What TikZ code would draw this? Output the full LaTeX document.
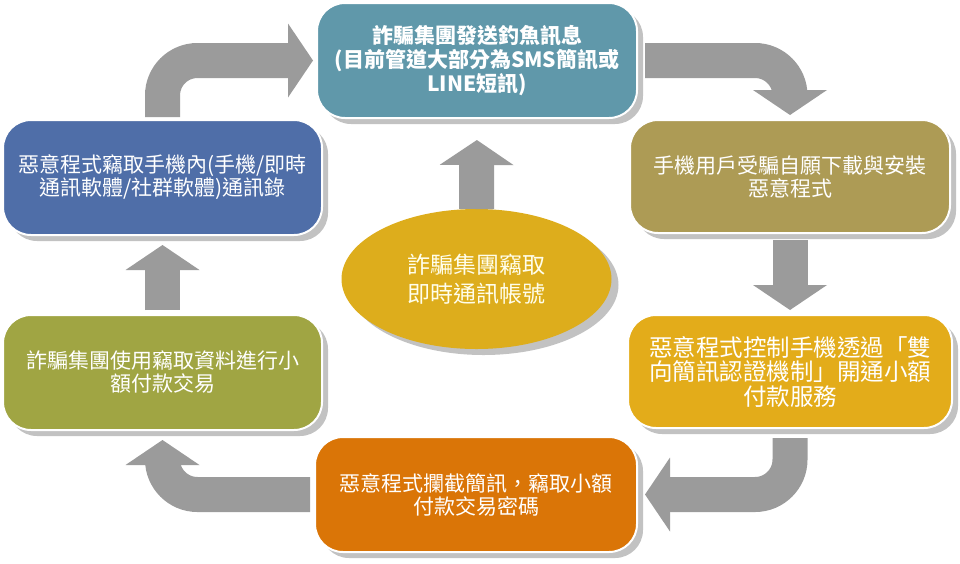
\documentclass[tikz,border=0pt]{standalone}
\usepackage{fontspec}
\newfontfamily\cjk{Noto Sans CJK TC}
\usetikzlibrary{
arrows.meta,
shadows,
shapes.geometric
}
\definecolor{phishteal}{RGB}{96,152,170}
\definecolor{contactblue}{RGB}{79,110,168}
\definecolor{installolive}{RGB}{173,155,85}
\definecolor{controlyellow}{RGB}{227,172,26}
\definecolor{paygreen}{RGB}{160,165,67}
\definecolor{interceptorange}{RGB}{218,117,7}
\definecolor{accountgold}{RGB}{221,173,28}
\definecolor{arrowgray}{RGB}{155,155,155}
\tikzset{
  every node/.style = {
    inner sep = 0pt,
    outer sep = 0pt
  }
}

\begin{document}
\begin{tikzpicture}[
      x=1pt, y=-1pt,
      flow box/.style={
        rectangle,
        rounded corners = 28pt,
        draw = white,
        line width = 2pt,
        text = white,
        align = center,
        font = \cjk\fontsize{21}{23}\selectfont,
        drop shadow = {shadow xshift=6pt, shadow yshift=-6pt, fill=black!24, opacity=1},
      },
      fat arrow/.style={
        draw = arrowgray,
        line width = 35pt,
        rounded corners = 35pt,
        -{Triangle[length=25pt, width=74pt, line width=0pt]},
      },
      ]
      \useasboundingbox (0,0) rectangle (960,563);
      % the six steps of the cycle
      \node [flow box, fill=phishteal, minimum width=320pt, minimum height=115pt,
        font=\cjk\bfseries\fontsize{21}{24}\selectfont] (node-phish) at (477,60.5)
      {詐騙集團發送釣魚訊息\\(目前管道大部分為SMS簡訊或\\LINE短訊)};
      \node [flow box, fill=installolive, minimum width=320pt, minimum height=113pt]
      (node-install) at (790,176.5)
      {手機用戶受騙自願下載與安裝\\惡意程式};
      \node [flow box, fill=controlyellow, minimum width=324pt, minimum height=113pt,
        font=\cjk\fontsize{23.5}{24.5}\selectfont] (node-control) at (790,371.5)
      {惡意程式控制手機透過「雙\\向簡訊認證機制」開通小額\\付款服務};
      \node [flow box, fill=interceptorange, minimum width=322pt, minimum height=115pt]
      (node-intercept) at (476,494.5)
      {惡意程式攔截簡訊，竊取小額\\付款交易密碼};
      \node [flow box, fill=paygreen, minimum width=319pt, minimum height=115pt]
      (node-pay) at (162.5,372.5)
      {詐騙集團使用竊取資料進行小\\額付款交易};
      \node [flow box, fill=contactblue, minimum width=319pt, minimum height=115pt]
      (node-contacts) at (162.5,177.5)
      {惡意程式竊取手機內(手機/即時\\通訊軟體/社群軟體)通訊錄};
      % the centre
      \node [ellipse, fill=accountgold, minimum width=270pt, minimum height=140pt,
        text=yellow!8, align=center, font=\cjk\fontsize{23}{29}\selectfont,
        drop shadow={shadow xshift=7pt, shadow yshift=-6pt, fill=black!24, opacity=1}]
      (node-account) at (476.5,279)
      {詐騙集團竊取\\即時通訊帳號};
      % arrows
      \draw [fat arrow, shorten <=3pt, shorten >=4pt] (node-contacts.north) |- (node-phish.west);
      \draw [fat arrow, shorten <=8pt, shorten >=5pt] (node-phish.east) -| (node-install.north);
      \draw [fat arrow, shorten <=7pt, shorten >=5pt] (node-install.south) -- (node-control.north);
      \draw [fat arrow, shorten <=10pt, shorten >=8pt] (node-control.south) |- (node-intercept.east);
      \draw [fat arrow, shorten <=5pt, shorten >=10pt] (node-intercept.west) -| (node-pay.south);
      \draw [fat arrow, shorten <=5pt, shorten >=10pt] (node-pay.north) -- (node-contacts.south);
      \draw [fat arrow, shorten >=22pt] (node-account.north) -- (node-phish.south);
    \end{tikzpicture}
\end{document}
